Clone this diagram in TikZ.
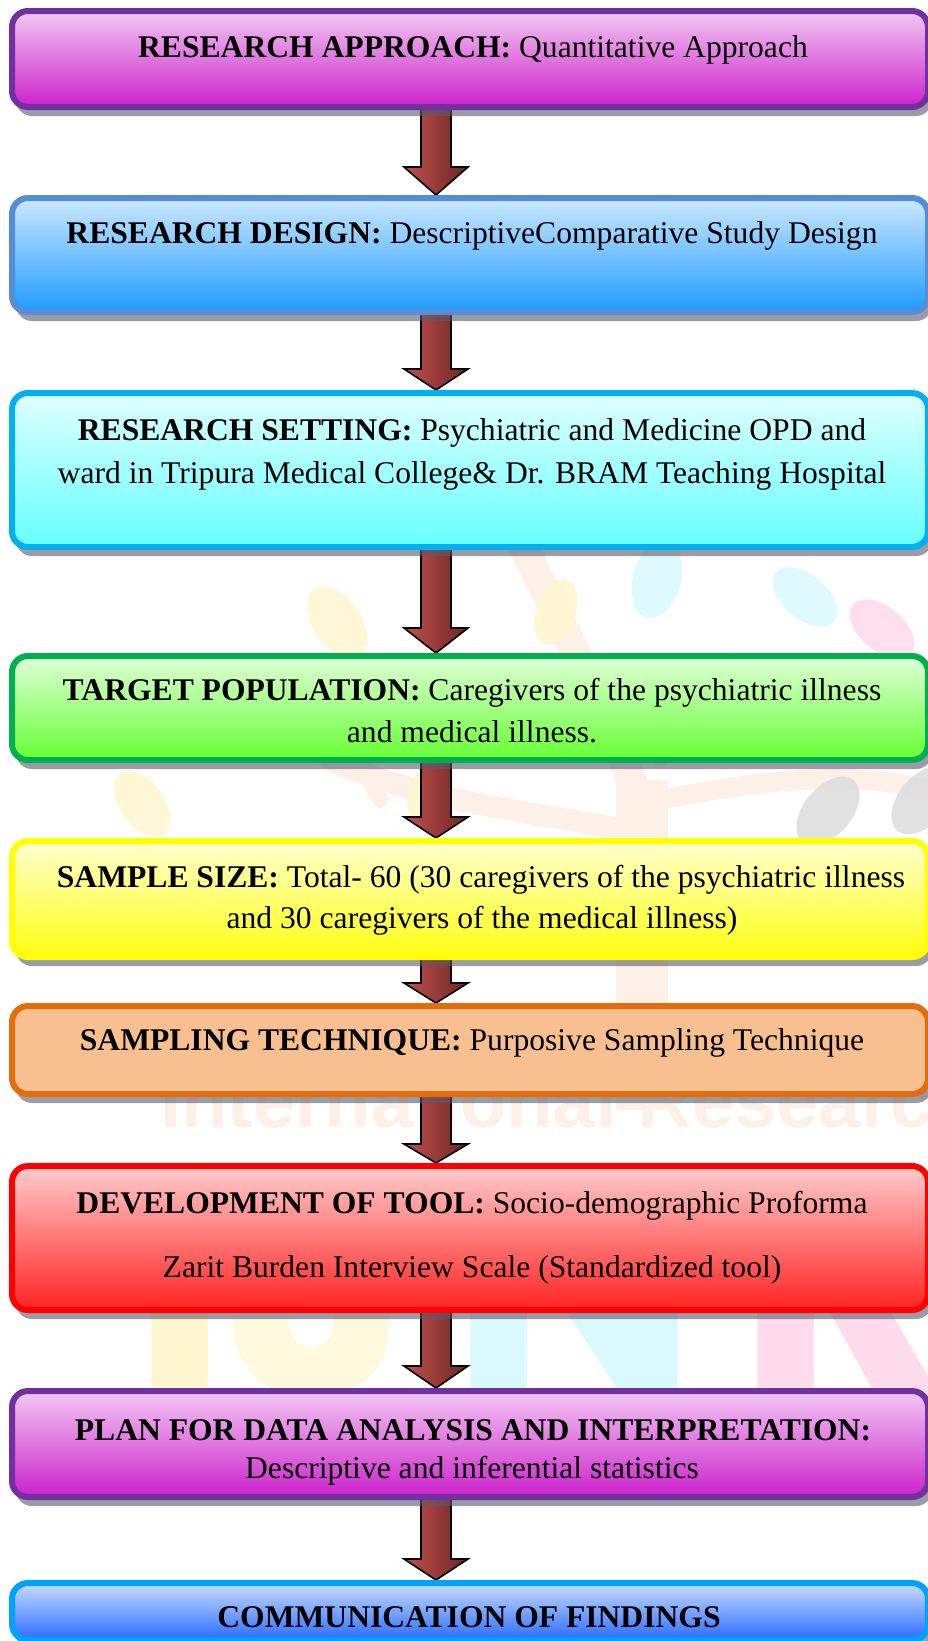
\documentclass[tikz,border=0pt]{standalone}
\usepackage{fontspec}
\setmainfont{Liberation Serif}
\newfontfamily\wmsans{Liberation Sans}
\newfontfamily\wmround{Poppins}
\usetikzlibrary{calc,shadows}

% box edge / gradient colours
\definecolor{purpleedge}{HTML}{7030A0}
\definecolor{purpletop}{HTML}{F2C8F2}
\definecolor{purplemid}{HTML}{E9A8E6}
\definecolor{purplebot}{HTML}{CC22CC}
\definecolor{blueedge}{HTML}{558ED5}
\definecolor{bluetop}{HTML}{CCE8FF}
\definecolor{bluemid}{HTML}{A8D4FF}
\definecolor{bluebot}{HTML}{1E9BFF}
\definecolor{cyanedge}{HTML}{00B0F0}
\definecolor{cyantop}{HTML}{E0FFFF}
\definecolor{cyanmid}{HTML}{B0FFFF}
\definecolor{cyanbot}{HTML}{66FFFF}
\definecolor{greenedge}{HTML}{00B050}
\definecolor{greentop}{HTML}{E0FFD8}
\definecolor{greenmid}{HTML}{B0FF98}
\definecolor{greenbot}{HTML}{66FF33}
\definecolor{yellowedge}{HTML}{FFFF00}
\definecolor{yellowtop}{HTML}{FFFFD0}
\definecolor{yellowmid}{HTML}{FFFF90}
\definecolor{yellowbot}{HTML}{FFFF10}
\definecolor{orangeedge}{HTML}{E46C0A}
\definecolor{orangefill}{HTML}{F8C090}
\definecolor{rededge}{HTML}{FF0000}
\definecolor{redtop}{HTML}{FFCCCC}
\definecolor{redmid}{HTML}{FF9999}
\definecolor{redbot}{HTML}{FF2222}
\definecolor{skyedge}{HTML}{00A2FF}
\definecolor{skytop}{HTML}{C8DCFF}
\definecolor{skymid}{HTML}{98B8FF}
\definecolor{skybot}{HTML}{2A6CFF}
\definecolor{arrowlight}{HTML}{C0504D}
\definecolor{arrowdark}{HTML}{6E2523}
\definecolor{shadowink}{RGB}{90,90,110}
% faint background emblem
\definecolor{wmorange}{HTML}{FDF0E6}
\definecolor{wmyellow}{HTML}{FFF6D0}
\definecolor{wmcyan}{HTML}{DAF9FF}
\definecolor{wmpink}{HTML}{FFDCEC}
\definecolor{wmgray}{HTML}{DEDEDE}

\pgfdeclarelayer{emblem}
\pgfdeclarelayer{links}
\pgfsetlayers{emblem,links,main}

\tikzset{
  stepbox/.style={draw, line width=6pt, rounded corners=16pt,
    minimum width=916pt, inner sep=0pt,
    drop shadow={shadow xshift=4pt, shadow yshift=-9pt,
      fill=shadowink, opacity=0.6}},
  shade3/.style n args={4}{draw=#1, top color=#2, middle color=#3, bottom color=#4},
  txt/.style={anchor=base, inner sep=0pt,
    font=\fontsize{31.6}{40}\selectfont},
  arrowbody/.style={draw=black, line width=1.6pt, line join=miter,
    left color=arrowlight, right color=arrowdark},
  leaf/.style={opacity=0.9},
}

% block arrow from the bottom of one box to the top of the next;
% #3 is the length of the arrow head
\newcommand\flowarrow[3]{%
  \path[arrowbody] let \p1=(#1.south), \p2=(#2.north) in
    (421pt,{\y1+6pt}) -- (421pt,{\y2+#3}) -- (404pt,{\y2+#3})
    -- (436pt,\y2) -- (468pt,{\y2+#3}) -- (451pt,{\y2+#3})
    -- (451pt,{\y1+6pt}) -- cycle;}

\begin{document}
\begin{tikzpicture}[x=1pt,y=-1pt]
\useasboundingbox (0,0) rectangle (927,1641);

% ---- faint emblem behind the chart ----
\begin{pgfonlayer}{emblem}
\draw[wmorange, line width=52pt] (642,1110) -- (642,780);
\draw[wmorange, line width=30pt, line cap=round] (640,800) .. controls (600,700) and (560,620) .. (520,540);
\draw[wmorange, line width=22pt, line cap=round] (625,830) .. controls (520,810) and (420,800) .. (330,760);
\draw[wmorange, line width=20pt, line cap=round] (660,800) .. controls (760,780) and (850,770) .. (930,790);
\draw[wmorange, line width=16pt, line cap=round] (380,800) .. controls (360,760) and (330,720) .. (290,700);
\draw[wmorange, line width=16pt, line cap=round] (660,760) .. controls (700,720) and (720,690) .. (730,660);
\fill[leaf, wmyellow, rotate around={35:(337,622)}] (337,622) ellipse (24 and 40);
\fill[leaf, wmyellow, rotate around={-20:(556,612)}] (556,612) ellipse (20 and 34);
\fill[leaf, wmcyan, rotate around={-15:(657,579)}] (657,579) ellipse (24 and 40);
\fill[leaf, wmcyan, rotate around={50:(805,597)}] (805,597) ellipse (22 and 38);
\fill[leaf, wmpink, rotate around={50:(882,629)}] (882,629) ellipse (22 and 38);
\fill[leaf, wmyellow, rotate around={35:(142,804)}] (142,804) ellipse (22 and 38);
\fill[leaf, wmyellow, rotate around={-30:(430,790)}] (430,790) ellipse (20 and 32);
\fill[leaf, wmgray, rotate around={-40:(828,811)}] (828,811) ellipse (24 and 40);
\fill[leaf, wmgray, rotate around={-40:(923,800)}] (923,800) ellipse (24 and 40);
\node[anchor=base west, inner sep=0pt, text=wmorange,
  font=\wmsans\bfseries\fontsize{76}{76}\selectfont] (wmtitle) at (160,1127) {International Research};
\begin{scope}[every node/.style={anchor=base, inner sep=0pt,
    font=\wmround\bfseries\fontsize{330}{330}\selectfont}]
  \node[text=wmyellow] (wmi) at (180,1395) {I};
  \node[text=wmyellow!70!white] (wmj) at (320,1395) {J};
  \node[text=wmcyan] (wmn) at (575,1395) {N};
  \node[text=wmpink] (wmr) at (845,1395) {R};
\end{scope}
\end{pgfonlayer}

% ---- boxes ----
\path
  (470,59)     node[stepbox, shade3={purpleedge}{purpletop}{purplemid}{purplebot}, minimum height=96pt]  (b1) {}
  (470,255)    node[stepbox, shade3={blueedge}{bluetop}{bluemid}{bluebot}, minimum height=114pt]  (b2) {}
  (470,470)    node[stepbox, shade3={cyanedge}{cyantop}{cyanmid}{cyanbot}, minimum height=154pt]  (b3) {}
  (470,708)    node[stepbox, shade3={greenedge}{greentop}{greenmid}{greenbot}, minimum height=104pt] (b4) {}
  (470,899)    node[stepbox, shade3={yellowedge}{yellowtop}{yellowmid}{yellowbot}, minimum height=116pt] (b5) {}
  (470,1050)   node[stepbox, draw=orangeedge, fill=orangefill, minimum height=88pt] (b6) {}
  (470,1238)   node[stepbox, shade3={rededge}{redtop}{redmid}{redbot}, minimum height=144pt]  (b7) {}
  (470,1444)   node[stepbox, shade3={purpleedge}{purpletop}{purplemid}{purplebot}, minimum height=106pt]  (b8) {}
  (470,1611.5) node[stepbox, shade3={skyedge}{skytop}{skymid}{skybot}, minimum height=57pt]  (b9) {};

% ---- arrows between consecutive boxes, under the boxes and their shadows ----
\begin{pgfonlayer}{links}
\flowarrow{b1}{b2}{28pt}
\flowarrow{b2}{b3}{21pt}
\flowarrow{b3}{b4}{25pt}
\flowarrow{b4}{b5}{21pt}
\flowarrow{b5}{b6}{20pt}
\flowarrow{b6}{b7}{19pt}
\flowarrow{b7}{b8}{22pt}
\flowarrow{b8}{b9}{21pt}
\end{pgfonlayer}

% ---- texts ----
\node[txt] (t1)  at (473,57)   {\textbf{RESEARCH APPROACH:} Quantitative Approach};
\node[txt] (t2)  at (472,243)  {\textbf{RESEARCH DESIGN:} DescriptiveComparative Study Design};
\node[txt] (t3a) at (472,440)  {\textbf{RESEARCH SETTING:} Psychiatric and Medicine OPD and};
\node[txt] (t3b) at (472,483)  {ward in Tripura Medical College\& Dr. BRAM Teaching Hospital};
\node[txt] (t4a) at (472,700)  {\textbf{TARGET POPULATION:} Caregivers of the psychiatric illness};
\node[txt] (t4b) at (472,742)  {and medical illness.};
\node[txt] (t5a) at (481,887)  {\textbf{SAMPLE SIZE:} Total- 60 (30 caregivers of the psychiatric illness};
\node[txt] (t5b) at (482,928)  {and 30 caregivers of the medical illness)};
\node[txt] (t6)  at (472,1050) {\textbf{SAMPLING TECHNIQUE:} Purposive Sampling Technique};
\node[txt] (t7a) at (472,1213) {\textbf{DEVELOPMENT OF TOOL:} Socio-demographic Proforma};
\node[txt] (t7b) at (472,1277) {Zarit Burden Interview Scale (Standardized tool)};
\node[txt] (t8a) at (473,1440) {\textbf{PLAN FOR DATA ANALYSIS AND INTERPRETATION:}};
\node[txt] (t8b) at (472,1478) {Descriptive and inferential statistics};
\node[txt] (t9)  at (469,1627) {\textbf{COMMUNICATION OF FINDINGS}};
\end{tikzpicture}
\end{document}
